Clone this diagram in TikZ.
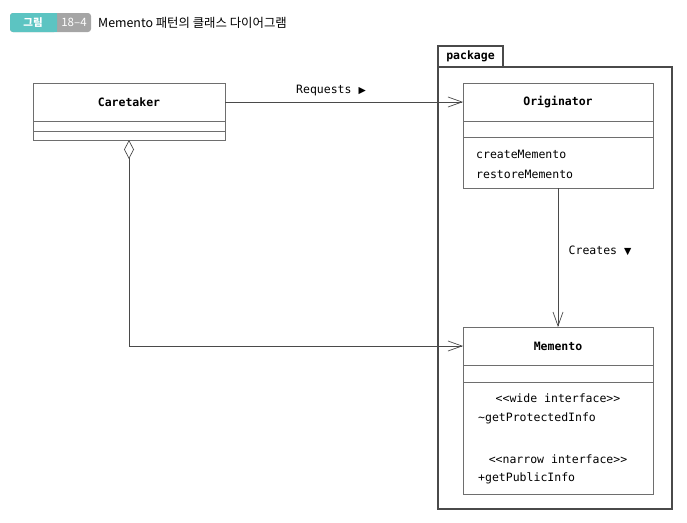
\documentclass[tikz,border=0pt]{standalone}
\usepackage{fontspec}
\setmonofont{DejaVu Sans Mono}
\newfontfamily\hangul{Noto Sans CJK KR}
\newfontfamily\simboli{DejaVu Sans}
\usetikzlibrary{positioning,arrows.meta}
\definecolor{linea}{HTML}{6E6E6E}
\definecolor{bordo}{HTML}{4A4A4A}
\definecolor{verdeacqua}{HTML}{5CC4C2}
\definecolor{grigio}{HTML}{A5A5A5}

\tikzset{
  comp/.style={draw=linea, line width=0.8pt, minimum width=190pt, inner sep=0pt, outer sep=0pt},
  nome/.style={comp, minimum height=38pt, font=\ttfamily\bfseries\fontsize{11.5}{13}\selectfont},
  voce/.style={inner sep=0pt, font=\ttfamily\fontsize{11.5}{13}\selectfont},
  assoc/.style={draw=bordo, line width=0.7pt, -{Straight Barb[length=14pt,width=10pt]}},
}

\begin{document}
\begin{tikzpicture}[x=1pt, y=-1pt]
  \useasboundingbox (0,0) rectangle (687,522);
  % titolo
  \fill[grigio, rounded corners=3pt] (10,13) rectangle (91,32);
  \fill[verdeacqua, rounded corners=3pt] (10,13) rectangle (57,32);
  \fill[verdeacqua] (50,13) rectangle (57,32);
  \node[text=white, font=\hangul\bfseries\fontsize{10.5}{12}\selectfont] (fig) at (33,22.5) {그림};
  \node[text=white, font=\hangul\fontsize{11.5}{12}\selectfont] (num) at (74,22.5) {18–4};
  \node[anchor=west, inner sep=0pt, font=\hangul\fontsize{12.4}{14}\selectfont] (titolo) at (98,22.5) {Memento 패턴의 클래스 다이어그램};

  % package
  \node[draw=bordo, line width=1.3pt, minimum width=234pt, minimum height=442pt, inner sep=0pt] (pkg) at (555,288) {};
  \node[draw=bordo, line width=1.3pt, minimum width=65pt, minimum height=21pt, inner sep=0pt,
        font=\ttfamily\bfseries\fontsize{11.5}{13}\selectfont] (tab) at (470.5,56.5) {package};

  % classi
  \node[nome, minimum width=192pt] (care) at (129,102) {Caretaker};
  \node[comp, minimum width=192pt, minimum height=10pt, below=0pt of care] (careattr) {};
  \node[comp, minimum width=192pt, minimum height=9pt, below=0pt of careattr] (careops) {};

  \node[nome] (orig) at (558,102) {Originator};
  \node[comp, minimum height=16pt, below=0pt of orig] (origattr) {};
  \node[comp, minimum height=51pt, below=0pt of origattr] (origops) {};
  \node[voce, anchor=west] (crea) at (476,154) {createMemento};
  \node[voce, anchor=west] (ripristina) at (476,174) {restoreMemento};

  \node[nome] (mem) at (558,346) {Memento};
  \node[comp, minimum height=17pt, below=0pt of mem] (memattr) {};
  \node[comp, minimum height=112pt, below=0pt of memattr] (memops) {};
  \node[voce] (ampia) at (558,398) {<<wide interface>>};
  \node[voce, anchor=west] (prot) at (478,418) {\textasciitilde getProtectedInfo};
  \node[voce] (stretta) at (558,459) {<<narrow interface>>};
  \node[voce, anchor=west] (pub) at (478,478) {+getPublicInfo};

  % relazioni
  \draw[assoc] (care.east) -- (orig.west);
  \node[voce] (req) at (331,91) {Requests {\simboli\fontsize{9.5}{10}\selectfont ▶}};
  \draw[assoc] (origops.south) -- (mem.north);
  \node[voce] (crt) at (600,251) {Creates {\simboli\fontsize{9.5}{10}\selectfont ▼}};
  \draw[assoc, {Diamond[open,length=19pt,width=10pt]}-{Straight Barb[length=14pt,width=10pt]}]
    (careops.south) |- (mem.west);
\end{tikzpicture}
\end{document}
